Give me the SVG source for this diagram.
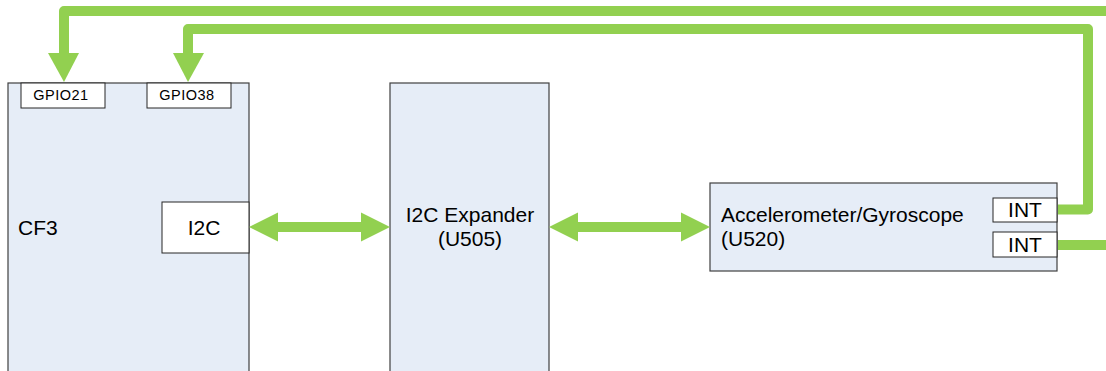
<svg xmlns="http://www.w3.org/2000/svg" width="1106" height="371" viewBox="0 0 1106 371">
<style>
.blk{fill:#E6EDF7;stroke:#404040;stroke-width:1.2}
.sub{fill:#FFFFFF;stroke:#262626;stroke-width:1}
.wire{fill:none;stroke:#92D050;stroke-width:10;stroke-linejoin:round}
.head{fill:#92D050}
text{font-family:"Liberation Sans",Arial,sans-serif;fill:#000}
.big{font-size:21px}
.small{font-size:14.5px}
</style>
<rect width="1106" height="371" fill="#FFFFFF"/>
<g id="cf3">
<rect class="blk" x="8" y="83" width="241" height="290"/>
<text class="big" x="18" y="235">CF3</text>
</g>
<g id="gpio21">
<rect class="sub" x="21" y="83" width="84" height="25"/>
<text class="small" x="61" y="100" text-anchor="middle" letter-spacing="0.5">GPIO21</text>
</g>
<g id="gpio38">
<rect class="sub" x="147" y="83" width="84" height="25"/>
<text class="small" x="187" y="100" text-anchor="middle" letter-spacing="0.5">GPIO38</text>
</g>
<g id="i2c">
<rect class="sub" x="162" y="202" width="87" height="51"/>
<text class="big" x="204" y="235" text-anchor="middle" font-size="22">I2C</text>
</g>
<g id="expander">
<rect class="blk" x="390" y="83" width="159" height="290"/>
<text class="big" x="470" y="222" text-anchor="middle">I2C Expander</text>
<text class="big" x="470" y="246" text-anchor="middle">(U505)</text>
</g>
<g id="accel">
<rect class="blk" x="710" y="183" width="347" height="88"/>
<text class="big" x="721" y="222">Accelerometer/Gyroscope</text>
<text class="big" x="721" y="246">(U520)</text>
</g>
<g id="int1">
<rect class="sub" x="993" y="198" width="64" height="24"/>
<text class="big" x="1025" y="217" text-anchor="middle">INT</text>
</g>
<g id="int2">
<rect class="sub" x="993" y="232" width="64" height="25"/>
<text class="big" x="1025" y="252" text-anchor="middle">INT</text>
</g>
<g id="connectors">
<path class="wire" d="M1110 11 H64 V55"/>
<polygon class="head" points="48,53 79,53 64,82"/>
<path class="wire" d="M1058 209.5 H1088 V29 H188 V55"/>
<polygon class="head" points="173,53 204,53 188,82"/>
<path class="wire" d="M1058 245 H1110"/>
<path class="wire" d="M276 227 H363"/>
<polygon class="head" points="249,227 278,212.5 278,241.5"/>
<polygon class="head" points="390,227 361,212.5 361,241.5"/>
<path class="wire" d="M576 227 H684"/>
<polygon class="head" points="549,227 578,212.5 578,241.5"/>
<polygon class="head" points="710,227 681,212.5 681,241.5"/>
</g>
</svg>
